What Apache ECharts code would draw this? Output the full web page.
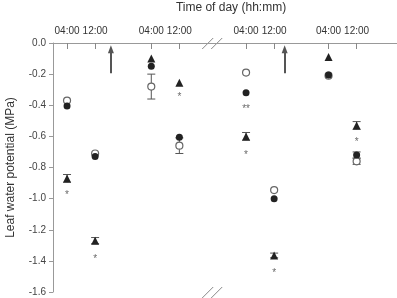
<!DOCTYPE html>
<html>
<head>
<meta charset="utf-8">
<script src="https://cdn.jsdelivr.net/npm/echarts@6/dist/echarts.min.js"></script>
<style>
  html, body { margin: 0; padding: 0; background: #fff; }
  #chart { width: 397px; height: 298px; }
</style>
</head>
<body>
<div id="chart"></div>
<script>
// sampling times on a compressed hour axis (break between day 2 and day 3)
const timePos = [4, 12, 28, 36, 55, 63, 78.5, 86.5];
const timeLabels = ['04:00', '12:00', '04:00', '12:00', '04:00', '12:00', '04:00', '12:00'];
const yTicks = [0, -0.2, -0.4, -0.6, -0.8, -1.0, -1.2, -1.4, -1.6];

// leaf water potential (MPa)
const openCircle = [-0.37, -0.71, -0.28, -0.66, -0.19, -0.945, -0.21, -0.76];
const openErr = [0, 0, 0.08, 0.05, 0, 0, 0, 0.02];
const filledCircle = [-0.405, -0.73, -0.15, -0.605, -0.32, -1.0, -0.205, -0.72];
const filledErr = [0, 0, 0, 0, 0, 0, 0, 0.02];
const triangle = [-0.87, -1.27, -0.10, -0.255, -0.60, -1.365, -0.09, -0.53];
const triErr = [0.025, 0.02, 0, 0, 0.025, 0.015, 0, 0.025];

// significance marks: [time index, y, text]
const stars = [[0, -0.96, '*'], [1, -1.37, '*'], [3, -0.33, '*'], [4, -0.405, '**'],
  [4, -0.70, '*'], [5, -1.46, '*'], [7, -0.62, '*']];

// irrigation arrows: [x, from, to]
const arrows = [[16.5, -0.195, -0.04], [66, -0.195, -0.04]];
const breakAt = 45.5;

const ink = '#222';

function pts(vals) {
  return vals.map((v, i) => [timePos[i], v]);
}
function errs(vals, e) {
  const out = [];
  vals.forEach((v, i) => { if (e[i] > 0) out.push([timePos[i], v - e[i], v + e[i]]); });
  return out;
}

const errorBars = {
  type: 'custom',
  z: 1,
  renderItem(params, api) {
    const x = api.coord([api.value(0), api.value(1)])[0];
    const lo = api.coord([api.value(0), api.value(1)])[1];
    const hi = api.coord([api.value(0), api.value(2)])[1];
    const w = 4;
    const st = { stroke: '#555', lineWidth: 1 };
    return {
      type: 'group',
      children: [
        { type: 'line', shape: { x1: x, y1: lo, x2: x, y2: hi }, style: st },
        { type: 'line', shape: { x1: x - w, y1: lo, x2: x + w, y2: lo }, style: st },
        { type: 'line', shape: { x1: x - w, y1: hi, x2: x + w, y2: hi }, style: st }
      ]
    };
  }
};

const myChart = echarts.init(document.getElementById('chart'));
myChart.setOption({
  animation: false,
  grid: { left: 53, top: 43, right: 0, bottom: 6, outerBoundsMode: 'none', containLabel: false },
  xAxis: {
    type: 'value',
    position: 'top',
    min: 0,
    max: 98,
    name: 'Time of day (hh:mm)',
    nameLocation: 'middle',
    nameGap: 29,
    nameTextStyle: { color: '#333', fontSize: 12, fontFamily: 'Liberation Sans', padding: [0, 0, 0, 12] },
    axisLine: { lineStyle: { color: '#999', width: 1 } },
    axisTick: { inside: true, length: 6, customValues: timePos, lineStyle: { color: '#888' } },
    axisLabel: {
      customValues: timePos,
      formatter: v => timeLabels[timePos.indexOf(v)],
      color: '#333', fontSize: 10, fontFamily: 'Liberation Sans', margin: 7
    },
    splitLine: { show: false }
  },
  yAxis: {
    type: 'value',
    min: -1.6,
    max: 0,
    interval: 0.2,
    name: 'Leaf water potential (MPa)',
    nameLocation: 'middle',
    nameGap: 36,
    nameTextStyle: { color: '#333', fontSize: 12, fontFamily: 'Liberation Sans' },
    axisLine: { show: true, lineStyle: { color: '#999' } },
    axisTick: { show: true, length: 4, lineStyle: { color: '#999' } },
    axisLabel: {
      formatter: v => yTicks.includes(+v.toFixed(1)) ? v.toFixed(1) : '',
      color: '#444', fontSize: 10, fontFamily: 'Liberation Sans', margin: 7
    },
    splitLine: { show: false }
  },
  series: [
    Object.assign({}, errorBars, { data: errs(openCircle, openErr) }),
    Object.assign({}, errorBars, { data: errs(filledCircle, filledErr) }),
    Object.assign({}, errorBars, { data: errs(triangle, triErr) }),
    {
      type: 'scatter', z: 3, data: pts(openCircle), symbol: 'circle', symbolSize: 7,
      itemStyle: { color: '#fff', borderColor: '#666', borderWidth: 1.2, opacity: 1 }
    },
    {
      type: 'scatter', z: 4, data: pts(filledCircle), symbol: 'circle', symbolSize: 7,
      itemStyle: { color: ink, opacity: 1 }
    },
    {
      type: 'scatter', z: 4, data: pts(triangle), symbol: 'triangle', symbolSize: 8,
      itemStyle: { color: ink, opacity: 1 }
    },
    {
      type: 'scatter', z: 4, symbolSize: 0,
      data: stars.map(s => ({ value: [timePos[s[0]], s[1]], name: s[2] })),
      label: {
        show: true, position: 'inside', formatter: p => p.name,
        color: '#444', fontSize: 10, fontFamily: 'Liberation Sans', offset: [0, 3]
      }
    },
    {
      type: 'scatter', symbolSize: 0, data: [],
      markLine: {
        silent: true, symbol: ['none', 'triangle'], symbolSize: [6, 8],
        label: { show: false },
        lineStyle: { color: '#555', width: 2, type: 'solid' },
        data: arrows.map(a => [{ coord: [a[0], a[1]] }, { coord: [a[0], a[2]] }])
      }
    }
  ]
});

// axis break marks "//" on top and bottom axis lines
const bx = myChart.convertToPixel({ xAxisIndex: 0 }, breakAt);
const yTop = myChart.convertToPixel({ yAxisIndex: 0 }, 0);
const yBot = myChart.convertToPixel({ yAxisIndex: 0 }, -1.6);
const marks = [];
[yTop, yBot].forEach(y => {
  marks.push({ type: 'rect', shape: { x: bx - 3, y: y - 2, width: 6, height: 4 }, style: { fill: '#fff' } });
  [-4.5, 4.5].forEach(dx => {
    marks.push({
      type: 'line',
      shape: { x1: bx + dx - 6, y1: y + 6, x2: bx + dx + 5, y2: y - 5 },
      style: { stroke: '#888', lineWidth: 1 }
    });
  });
});
myChart.setOption({ graphic: marks });
</script>
</body>
</html>
